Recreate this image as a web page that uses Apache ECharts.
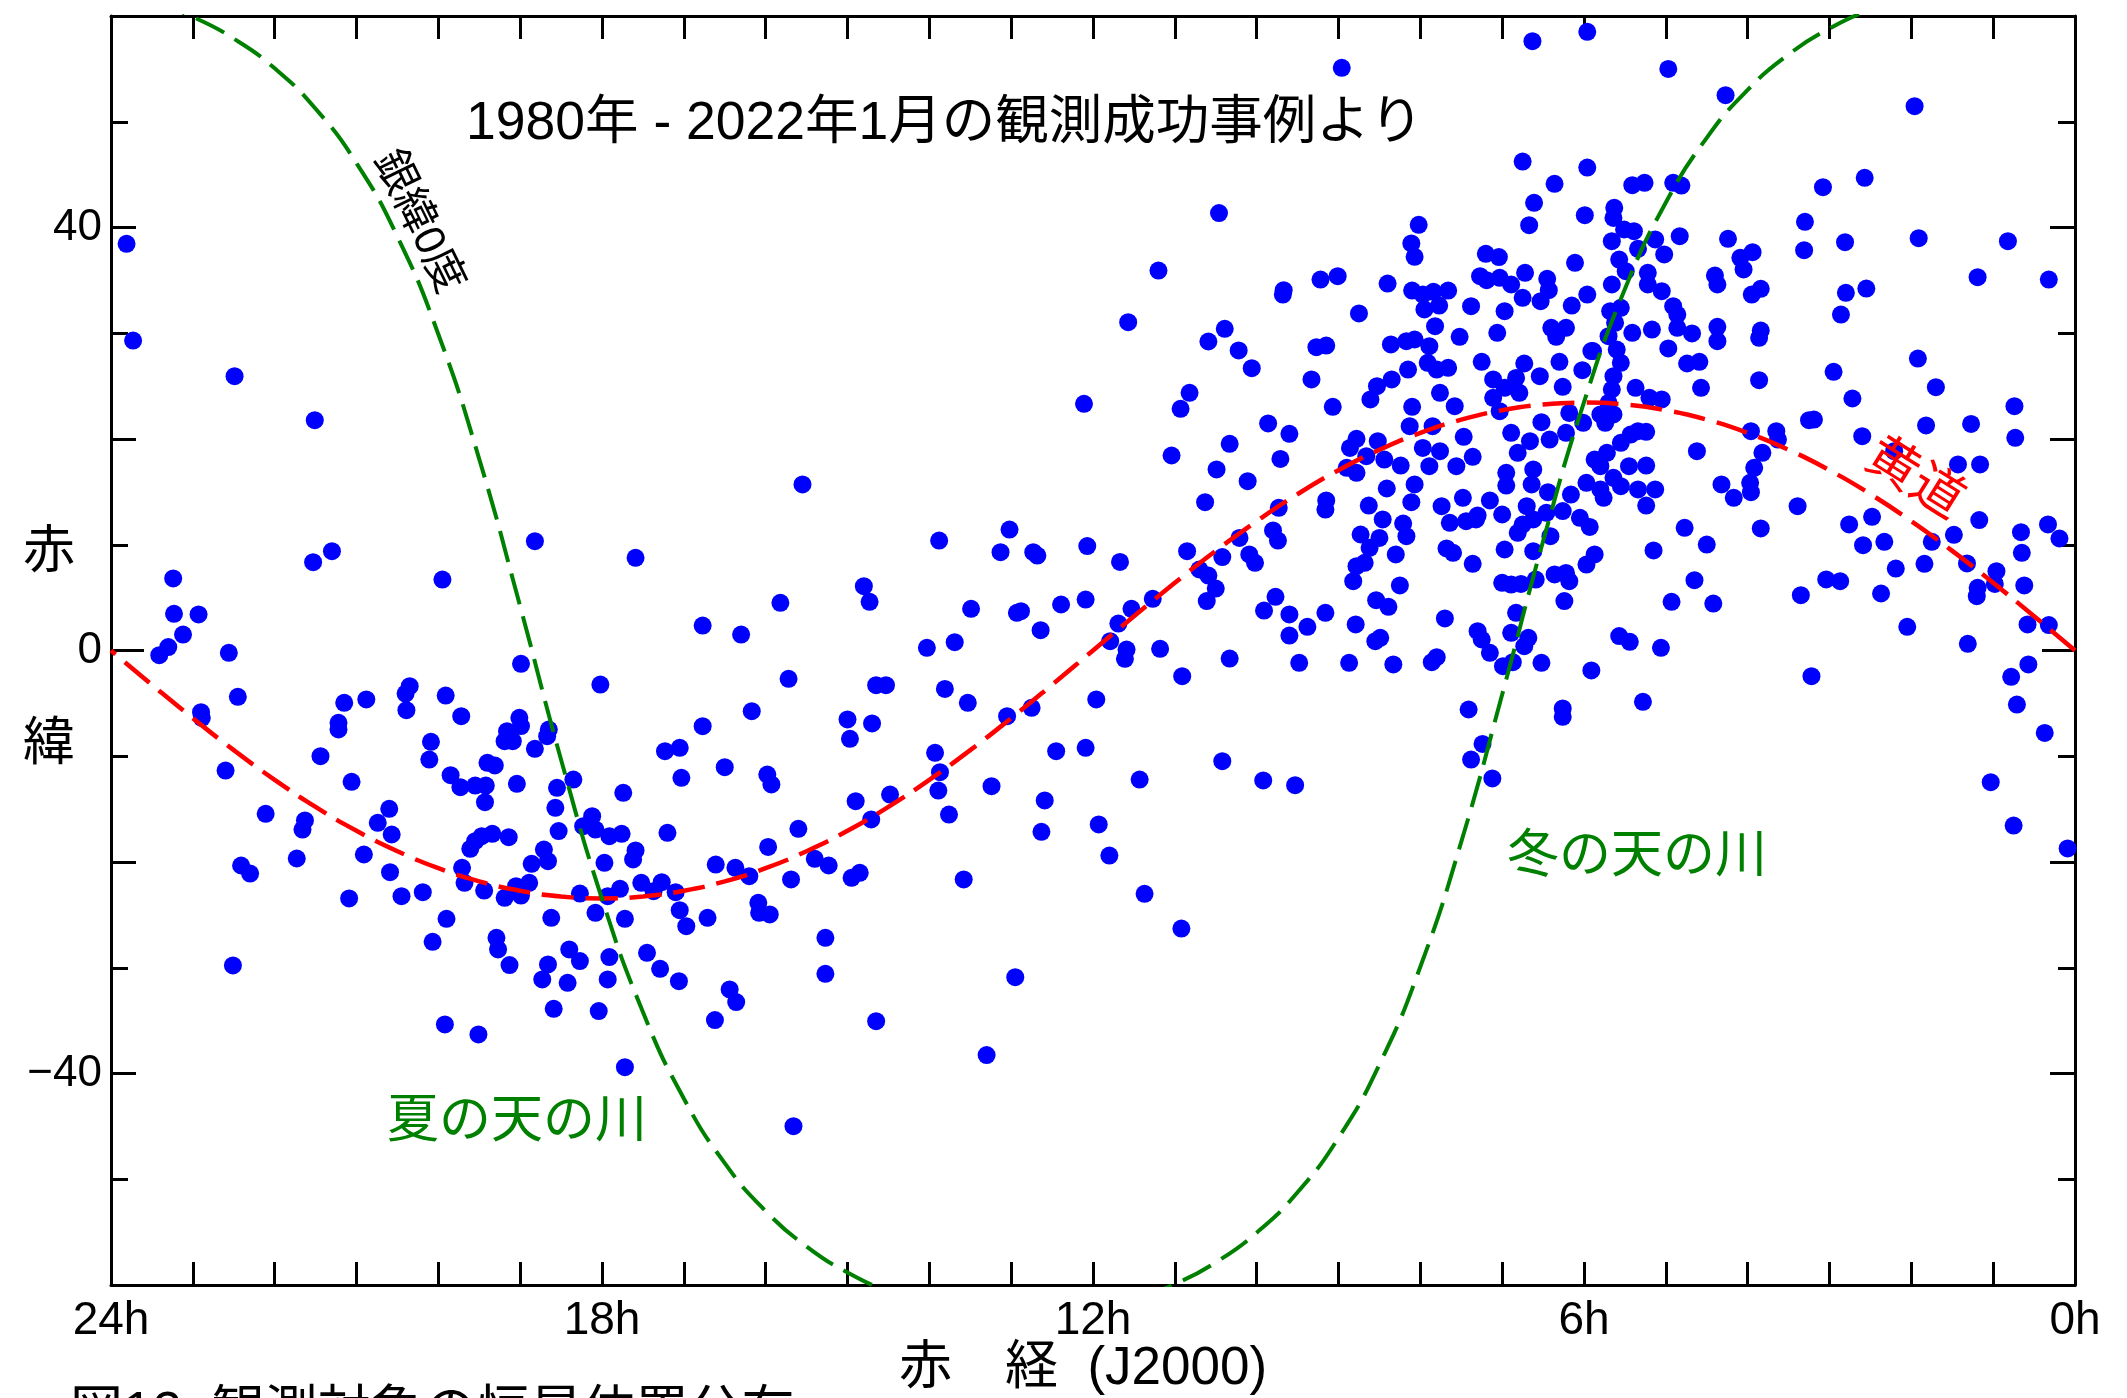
<!DOCTYPE html>
<html>
<head>
<meta charset="utf-8">
<script src="https://cdn.jsdelivr.net/npm/echarts@6/dist/echarts.min.js"></script>
<style>
  html, body { margin: 0; padding: 0; background: #fff; }
  #chart { width: 2127px; height: 1398px; }
</style>
</head>
<body>
<div id="chart"></div>
<script>
// star positions [RA (h), Dec (deg)]
const starsNear3h = [
  [4.97,55.00],[4.27,52.51],[1.96,51.47],[5.41,44.00],[5.26,44.22],[4.91,44.22],[4.81,43.97],[3.08,43.81],[2.57,44.70],
  [5.63,41.86],[5.64,40.91],[5.51,39.81],[5.39,39.65],[5.66,38.71],[5.34,37.98],[5.13,38.87],[4.83,39.18],[5.02,37.45],
  [4.24,38.93],[3.30,40.54],[3.31,37.86],[2.81,38.61],[1.91,38.99],[0.82,38.71],[5.57,36.97],[5.49,35.87],[5.22,35.71],
  [5.66,34.61],[5.22,34.61],[5.05,33.98],[4.40,35.46],[4.37,34.61],[4.09,37.13],[3.94,37.67],[4.05,36.03],[3.95,33.66],
  [3.84,34.20],[2.80,33.82],[2.55,34.23],[2.86,31.77],[1.19,35.30],[0.32,35.08],[4.91,32.56],[4.86,31.77],[5.68,32.09],
  [5.55,32.40],[5.62,30.99],[5.41,30.04],[5.17,30.35],[4.86,30.51],[4.68,29.98],[4.37,30.61],[4.37,29.25],[3.84,30.26],
  [3.86,29.57],[5.70,29.72],[5.89,28.31],[5.60,28.46],[5.55,27.20],[4.97,28.56],[4.74,27.14],[4.59,27.30],[5.64,25.94],
  [5.66,24.68],[5.37,24.84],[4.57,24.84],[3.86,25.56],[2.95,26.35],[1.92,27.61],[1.70,24.90],[2.72,23.83],[5.20,23.89],
  [5.05,23.74],[5.70,23.42],[5.80,22.32],[5.64,22.32],[5.74,21.53],[5.43,20.42],[5.34,20.74],[5.24,20.68],[5.55,19.64],
  [5.72,18.69],[5.80,17.43],[5.45,17.43],[5.24,17.49],[4.62,18.85],[3.96,20.74],[3.65,20.74],[3.63,19.95],[3.82,18.69],
  [3.92,17.27],[3.25,21.78],[3.19,21.84],[2.60,20.27],[1.82,21.28],[1.27,21.43],[0.74,23.10],[0.73,20.11],[1.43,17.59],
  [1.16,17.59],[2.21,18.85],
  [5.80,15.23],[5.55,15.54],[5.64,16.33],[5.34,15.23],[5.13,15.23],[5.24,13.71],[5.76,14.44],[4.32,15.70],[4.17,14.44],
  [3.96,14.97],[3.97,15.86],[3.39,13.65],[4.77,11.60],[3.84,11.54],[4.50,10.02],[5.15,9.46],[4.65,6.65],[4.93,4.60],
  [4.42,4.44],[3.35,5.23],[3.04,6.72],[2.87,6.56],[2.76,11.92],[2.48,12.64],[2.59,9.96],[2.33,10.28],[2.19,7.75],
  [2.37,5.39],[1.84,8.20],[1.75,10.28],[1.48,10.94],[1.17,12.33],[1.32,8.23],[0.96,7.50],[0.98,6.30],[1.19,5.93],
  [1.20,5.14],[0.66,11.19],[0.65,9.24],[0.33,11.92],[0.19,10.59],[0.62,6.15],[0.58,2.46],[0.32,2.40],[2.05,2.24],
  [1.31,0.63],[0.57,-1.32],[0.78,-2.49],[0.71,-5.11],[0.37,-7.79],[1.03,-12.45],[0.75,-16.55],[0.09,-18.72],[3.22,-2.43],
  [5.28,-4.85],[5.06,0.25],[5.57,1.36],[5.44,0.82]
];

const starsNear9h = [
  [8.96,55.10],[6.63,57.62],[5.96,58.50],[10.46,41.36],[11.20,35.93],[11.57,31.05],[6.75,46.24],[5.96,45.67],[6.36,44.13],
  [6.61,42.33],[6.67,40.22],[5.99,41.17],[8.02,40.25],[8.11,38.49],[8.07,37.23],[7.20,37.51],[7.04,37.20],[6.11,36.66],
  [7.27,35.40],[7.19,35.02],[7.03,35.24],[6.89,34.61],[6.72,35.71],[6.45,35.15],[6.43,34.07],[6.53,33.03],[6.75,33.35],
  [5.96,33.66],[6.15,32.62],[6.97,32.09],[7.38,32.56],[7.06,30.04],[8.40,34.70],[8.10,34.04],[7.97,33.66],[7.84,33.92],
  [7.66,34.04],[7.95,32.25],[7.77,32.62],[7.82,30.67],[7.52,29.66],[8.75,31.87],[9.22,35.08],[9.01,35.40],[9.67,34.07],
  [9.68,33.66],[10.39,30.42],[10.59,29.22],[10.22,28.37],[10.06,26.70],[10.82,24.37],[10.93,22.85],[9.27,28.68],[9.15,28.84],
  [9.33,25.63],[9.07,23.04],[8.61,23.74],[8.53,25.00],[8.35,25.63],[8.15,26.57],[8.36,28.94],[8.17,29.25],[8.07,29.41],
  [7.89,28.78],[7.91,27.20],[7.80,26.57],[7.66,26.73],[7.25,27.30],[6.30,27.30],[6.73,27.14],[6.83,25.78],[6.54,25.94],
  [6.26,24.93],[6.02,26.51],[5.91,28.31],[6.40,30.51],[6.22,30.51],[6.34,29.66],[7.11,25.63],[6.97,24.84],[7.11,23.89],
  [7.76,24.37],[7.58,23.10],[8.10,23.04],[8.13,21.21],[7.85,21.21],[7.47,20.21],[7.97,19.16],[7.76,18.85],[7.36,18.31],
  [7.56,17.43],[7.89,17.43],[6.89,20.58],[6.66,19.79],[6.52,21.59],[6.42,19.95],[6.22,20.58],[6.18,22.47],[6.01,21.53],
  [6.81,18.69],[6.95,16.80],[6.62,17.12],[5.87,18.06],[7.03,22.63],[6.79,24.37],[11.04,18.44],[10.33,19.54],[10.49,17.12],
  [9.86,21.47],[9.60,20.49],[9.71,18.12],[8.78,20.02],[8.86,19.16],[8.52,19.79],[8.66,18.38],[8.44,18.06],[8.24,17.49],
  [8.90,17.27],[8.78,16.80],
  [10.11,16.01],[10.63,14.03],[9.73,13.49],[9.15,14.19],[9.16,13.33],[8.63,13.71],[8.41,15.32],[8.07,15.70],[8.11,14.03],
  [7.74,13.65],[7.48,14.44],[7.15,14.19],[7.00,12.86],[6.95,15.60],[6.64,15.70],[6.44,14.97],[6.26,13.18],[6.05,12.55],
  [5.93,11.69],[5.97,15.86],[6.16,14.75],[5.87,9.08],[5.97,8.13],[8.46,12.39],[8.21,12.01],[8.17,10.81],[8.50,10.65],
  [8.73,10.97],[8.62,9.71],[8.30,9.08],[8.68,8.29],[8.78,7.97],[8.82,6.56],[8.25,6.15],[8.54,4.76],[8.39,4.13],
  [7.70,3.03],[7.68,9.65],[7.60,9.24],[7.36,8.20],[7.64,12.07],[7.44,12.23],[7.32,12.39],[7.30,12.77],[6.97,9.55],
  [6.81,11.13],[6.75,11.91],[6.62,12.39],[6.46,13.02],[6.62,9.39],[6.41,10.81],[6.70,13.65],[7.00,6.40],[6.89,6.24],
  [6.77,6.30],[6.59,6.71],[6.36,7.19],[6.22,7.34],[6.18,6.56],[6.24,4.67],[6.83,3.56],[6.89,1.67],[6.68,1.20],
  [6.73,0.41],[7.30,1.83],[7.25,1.04],[7.15,-0.22],[6.99,-1.48],[6.87,-1.10],[6.52,-1.17],[5.91,-1.89],[7.80,-0.63],
  [7.86,-1.10],[8.33,-1.32],[8.87,-1.17],[9.48,-1.17],[9.60,1.41],[9.38,2.24],[9.60,3.41],[9.77,5.08],[9.91,3.78],
  [9.16,3.56],[8.79,2.46],[8.55,0.88],[8.49,1.20],[10.33,-0.76],[10.91,-2.43],[11.18,0.16],[11.61,-0.79],[11.59,0.09],
  [11.79,0.88],[11.69,2.55],[11.53,3.94],[11.27,4.89],[11.67,8.38],[10.85,9.39],[10.70,7.66],[10.59,7.09],[10.50,5.86],
  [10.61,4.67],[10.42,8.83],[10.21,10.65],[10.09,9.08],[10.02,8.29],[9.80,11.35],[9.74,10.40],[11.43,-12.20],[10.42,-10.47],
  [9.92,-12.29],[9.53,-12.74],[11.80,-19.39],[11.37,-23.01],[10.92,-26.29],[7.41,-5.58],[7.24,-8.83],[7.38,-10.31],
  [7.12,-12.10],[6.26,-5.48],[6.26,-6.27]
];

const starsNear15h = [
  [12.11,23.33],
  [15.55,15.70],[17.59,8.76],[13.88,10.40],[13.02,11.44],[13.13,9.30],[12.73,9.30],[12.68,8.98],[12.07,9.87],[14.80,6.08],
  [14.73,4.60],[15.82,4.51],[16.77,2.36],[16.30,1.51],[13.49,3.94],[12.93,3.56],[12.88,3.72],[12.39,4.35],[12.09,4.82],
  [12.64,1.92],[14.03,0.25],[13.69,0.79],[18.02,-3.22],[15.72,-2.68],[14.65,-3.28],[14.53,-3.28],[13.81,-3.63],[13.53,-4.95],
  [11.96,-4.63],[16.17,-5.74],[16.77,-7.16],[15.00,-6.52],[14.70,-6.90],[14.97,-8.35],[13.05,-6.21],[12.75,-5.42],[12.45,-9.52],
  [12.09,-9.20],[17.23,-9.52],[17.05,-9.20],[17.03,-12.04],[16.50,-11.03],[15.98,-11.73],[15.93,-12.67],[13.93,-9.68],[13.87,-11.51],
  [13.89,-13.24],[13.24,-12.83],[14.48,-13.62],[14.90,-14.25],[14.71,-15.98],[13.76,-15.51],[12.59,-14.18],[12.63,-17.15],[11.93,-16.45],
  [18.35,-12.20],[17.74,-13.46],[18.12,-15.67],[18.23,-16.61],[18.08,-16.93],[17.91,-17.56],[17.76,-17.34],[17.59,-18.91],[17.62,-19.76],
  [17.97,-20.08],[17.20,-17.24],[16.61,-20.24],[16.37,-20.55],[16.20,-21.34],[15.97,-18.57],[15.60,-16.86],[15.40,-19.70],[15.23,-20.33],
  [15.69,-21.65],[14.95,-21.50],[14.85,-21.02],[13.58,-21.65],[17.52,-21.97],[17.27,-21.91],[17.37,-22.76],[17.10,-22.85],[17.78,-22.54],
  [17.93,-23.23],[18.27,-22.98],[18.08,-24.81],[17.72,-25.37],[17.05,-24.56],[16.97,-26.07],[16.71,-25.28],[16.09,-23.86],[16.08,-24.81],
  [15.95,-24.96],
  [15.27,-27.17],[15.27,-30.57],[18.40,-28.27],[18.27,-29.37],[18.42,-31.42],[17.91,-28.99],[17.93,-31.11],[18.04,-34.10],[17.45,-28.59],
  [17.29,-30.10],[17.06,-31.27],[16.44,-32.05],[16.36,-33.25],[16.62,-34.95],[17.72,-39.40],[14.65,-35.05],[12.95,-30.89],[13.30,-38.26],
  [15.66,-44.98]
];

const starsNear21h = [
  [23.81,38.46],[23.73,29.31],[22.49,25.94],[21.51,21.78],
  [23.24,6.81],[23.23,3.47],[22.93,3.41],[23.12,1.51],[23.30,0.32],[23.41,-0.44],[22.56,-0.22],[22.45,-4.38],[22.90,-5.83],
  [22.89,-6.37],[22.60,-11.35],[21.53,8.35],[21.30,9.39],[19.95,6.71],[18.82,10.34],[18.99,-1.26],[21.15,-4.95],[21.22,-6.84],
  [21.22,-7.47],[20.88,-4.63],[20.35,-3.37],[20.40,-4.07],[20.39,-5.64],[19.91,-4.26],[19.72,-6.21],[21.44,-9.99],[21.06,-12.42],
  [20.09,-8.64],[20.11,-10.31],[19.85,-11.79],[19.73,-12.92],[19.55,-12.77],[19.42,-12.77],[19.43,-14.34],[19.40,-10.62],[19.31,-10.87],
  [19.04,-12.61],[19.01,-6.37],[18.99,-7.15],[19.16,-7.63],[19.19,-8.57],[19.09,-8.57],[18.82,-9.30],[18.65,-7.47],[18.67,-8.10],
  [18.55,-12.99],[18.57,-14.88],[18.53,-17.08],[22.11,-15.44],[21.63,-16.07],[21.66,-16.93],[21.73,-19.67],[22.41,-20.33],[22.30,-21.09],
  [20.60,-14.97],[20.74,-16.30],[20.57,-17.40],[20.91,-19.29],[20.59,-20.96],[21.09,-23.45],[20.45,-23.23],[20.19,-22.85],[19.90,-25.37],
  [19.61,-18.75],[19.55,-18.03],[19.47,-17.56],[19.34,-17.34],[19.14,-17.65],[19.71,-20.55],[19.68,-21.97],[19.44,-22.70],[19.19,-23.39],
  [19.05,-22.29],[18.99,-23.17],[18.89,-21.97],[18.71,-18.82],[18.86,-20.17],[18.66,-19.92],[18.62,-25.28],
  [22.51,-29.78],[20.07,-27.55],[19.29,-27.17],[19.27,-28.27],[19.13,-29.75],[18.66,-29.69],[18.73,-31.11],[18.59,-33.88],[19.92,-35.36],
  [19.51,-36.31]
];

// reference curves, sampled every half hour of RA
const curveRA = [0,0.5,1,1.5,2,2.5,3,3.5,4,4.5,5,5.5,6,6.5,7,7.5,8,8.5,9,9.5,10,10.5,11,11.5,12,
  12.5,13,13.5,14,14.5,15,15.5,16,16.5,17,17.5,18,18.5,19,19.5,20,20.5,21,21.5,22,22.5,23,23.5,24];
const eclipticDec = [0,3.24,6.40,9.42,12.23,14.79,17.05,18.98,20.58,21.83,22.72,23.26,23.44,23.26,22.72,21.83,20.58,18.98,17.05,14.79,12.23,9.42,6.40,3.24,0,
  -3.24,-6.40,-9.42,-12.23,-14.79,-17.05,-18.98,-20.58,-21.83,-22.72,-23.26,-23.44,-23.26,-22.72,-21.83,-20.58,-18.98,-17.05,-14.79,-12.23,-9.42,-6.40,-3.24,0];
const galacticDec = [62.27,62.78,62.86,62.55,61.80,60.59,58.82,56.36,53.01,48.48,42.36,34.18,23.48,10.33,-4.17,-18.10,-29.91,-39.14,-46.08,-51.23,-55.05,-57.86,-59.91,-61.34,-62.27,
  -62.78,-62.86,-62.55,-61.80,-60.59,-58.82,-56.36,-53.01,-48.48,-42.36,-34.18,-23.48,-10.33,4.17,18.10,29.91,39.14,46.08,51.23,55.05,57.86,59.91,61.34,62.27];

const hourLabels = [0, 6, 12, 18, 24];
const decLabels = [-40, 0, 40];

const latin = "'Liberation Sans', Arial, 'Noto Sans CJK JP', sans-serif";
const jp = "'Liberation Sans', 'Noto Sans CJK JP', sans-serif";

const chart = echarts.init(document.getElementById('chart'));

const frameLine = { show: true, onZero: false, lineStyle: { color: '#000', width: 3 } };
const tickStyle = { color: '#000', width: 3 };

function xAx(pos, labels) {
  return {
    type: 'value', position: pos, min: 0, max: 24, interval: 1, inverse: true,
    axisLine: frameLine,
    axisTick: { show: true, inside: true, length: 23, lineStyle: tickStyle },
    axisLabel: {
      show: labels, margin: 13, fontSize: 46, color: '#000', fontFamily: latin,
      showMinLabel: true, showMaxLabel: true,
      formatter: v => hourLabels.indexOf(v) >= 0 ? v + 'h' : ''
    },
    splitLine: { show: false }
  };
}

function yAx(pos, labels) {
  return {
    type: 'value', position: pos, min: -60, max: 60, interval: 20,
    axisLine: frameLine,
    axisTick: { show: true, inside: true, length: 25, lineStyle: tickStyle },
    minorTick: { show: true, splitNumber: 2, length: 17, lineStyle: tickStyle },
    axisLabel: {
      show: labels, margin: 9, fontSize: 44, color: '#000', fontFamily: latin,
      formatter: v => decLabels.indexOf(v) >= 0 ? (v < 0 ? '\u2212' + (-v) : String(v)) : ''
    },
    splitLine: { show: false }, minorSplitLine: { show: false }
  };
}

function yZero(pos) {
  return {
    type: 'value', position: pos, min: -60, max: 60, interval: 60,
    axisLine: { show: false, onZero: false },
    axisTick: { show: true, inside: true, length: 33, lineStyle: tickStyle },
    axisLabel: { show: false }, splitLine: { show: false }
  };
}

const pairs = ys => curveRA.map((ra, i) => [ra, ys[i]]);

const option = {
  backgroundColor: '#fff',
  animation: false,
  grid: { left: 111, right: 52, top: 16, bottom: 113 },
  xAxis: [xAx('bottom', true), xAx('top', false)],
  yAxis: [yAx('left', true), yZero('left'), yAx('right', false), yZero('right')],
  series: [
    {
      type: 'scatter', symbolSize: 18,
      itemStyle: { color: '#0000ff', opacity: 1 },
      data: [].concat(starsNear3h, starsNear9h, starsNear15h, starsNear21h)
    },
    {
      type: 'line', smooth: true, showSymbol: false, clip: true,
      lineStyle: { color: '#ff0000', width: 4.5, type: [32, 12] },
      data: pairs(eclipticDec)
    },
    {
      type: 'line', smooth: true, showSymbol: false, clip: true,
      lineStyle: { color: '#008000', width: 4, type: [32, 12] },
      data: pairs(galacticDec)
    }
  ],
  graphic: [
    { type: 'text', x: 466, y: 124, z: 100,
      style: { text: '1980年 - 2022年1月の観測成功事例より', fontSize: 53.5, fontFamily: jp, fill: '#000', align: 'left', verticalAlign: 'middle' } },
    { type: 'text', x: 418, y: 222, z: 100, rotation: -64 * Math.PI / 180,
      style: { text: '銀緯0度', fontSize: 43, fontFamily: jp, fill: '#000', align: 'center', verticalAlign: 'middle' } },
    { type: 'text', x: 387, y: 1123, z: 100,
      style: { text: '夏の天の川', fontSize: 52, fontFamily: jp, fill: '#008000', align: 'left', verticalAlign: 'middle' } },
    { type: 'text', x: 1507, y: 858, z: 100,
      style: { text: '冬の天の川', fontSize: 52, fontFamily: jp, fill: '#008000', align: 'left', verticalAlign: 'middle' } },
    { type: 'text', x: 1914, y: 480, z: 100, rotation: -32 * Math.PI / 180,
      style: { text: '黄道', fontSize: 52, fontFamily: jp, fill: '#ff0000', align: 'center', verticalAlign: 'middle' } },
    { type: 'text', x: 49, y: 554, z: 100,
      style: { text: '赤', fontSize: 52, fontFamily: jp, fill: '#000', align: 'center', verticalAlign: 'middle' } },
    { type: 'text', x: 49, y: 746, z: 100,
      style: { text: '緯', fontSize: 52, fontFamily: jp, fill: '#000', align: 'center', verticalAlign: 'middle' } },
    { type: 'text', x: 899, y: 1369, z: 100,
      style: { text: '赤　経  (J2000)', fontSize: 53, fontFamily: jp, fill: '#000', align: 'left', verticalAlign: 'middle' } },
    { type: 'text', x: 70, y: 1388, z: 100,
      style: { text: '図12  観測対象の恒星位置分布', fontSize: 53, fontFamily: jp, fill: '#000', align: 'left', verticalAlign: 'top' } }
  ]
};

chart.setOption(option);
</script>
</body>
</html>
